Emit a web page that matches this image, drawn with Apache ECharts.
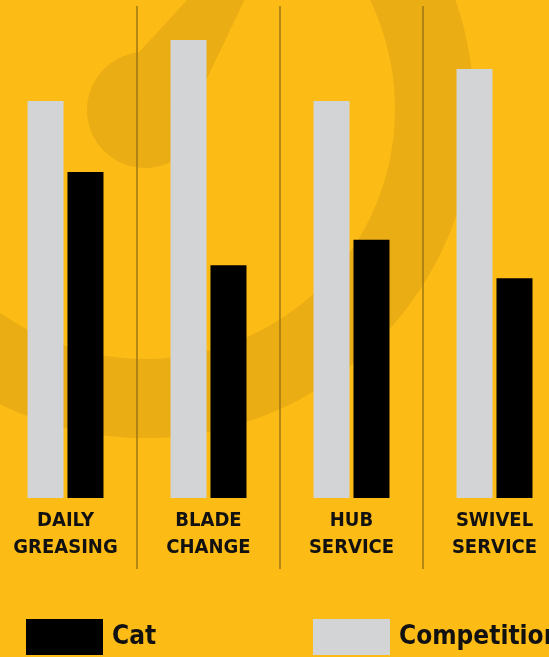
<!DOCTYPE html>
<html>
<head>
<meta charset="utf-8">
<title>Cat vs Competition</title>
<script src="https://cdn.jsdelivr.net/npm/echarts@6/dist/echarts.min.js"></script>
<style>
    html, body { margin: 0; padding: 0; overflow: hidden; width: 549px; height: 657px; }
    /* the plot runs a little past both edges of the window */
    #chart { position: absolute; left: -6px; top: 0; width: 572px; height: 657px; }
</style>
</head>
<body>
<div id="chart"></div>
<script>
const categories = ['DAILY\nGREASING', 'BLADE\nCHANGE', 'HUB\nSERVICE', 'SWIVEL\nSERVICE'];
const competitionValues = [82.7, 95.4, 82.7, 89.4];
const catValues = [67.9, 48.5, 53.8, 45.8];

const font = "'Liberation Sans Narrow', 'DejaVu Sans Condensed', 'Arial Narrow', sans-serif";
const yellow = '#fdbb16';
const shade = '#ebad14';

const myChart = echarts.init(document.getElementById('chart'));

const option = {
    backgroundColor: yellow,
    animation: false,
    // faint gauge logo behind the bars
    graphic: [
        { type: 'ring', z: -10, shape: { cx: 151, cy: 109, r: 329, r0: 250 }, style: { fill: shade } },
        { type: 'circle', z: -10, shape: { cx: 151, cy: 110, r: 58 }, style: { fill: shade } },
        { type: 'polygon', z: -10, shape: { points: [[313, -130], [204, 97], [151, 110], [124, 75]] }, style: { fill: shade } }
    ],
    grid: [
        { left: 0, right: 0, top: 18, bottom: 159 },
        // second grid only for the divider lines
        { left: 0, right: 0, top: 6, bottom: 88 }
    ],
    legend: [
        {
            data: ['Cat'], left: 32, top: 619, icon: 'rect', padding: 0,
            itemWidth: 77, itemHeight: 36,
            textStyle: { fontFamily: font, fontWeight: 'bold', fontSize: 26, color: '#111', padding: [0, 0, 0, 4] }
        },
        {
            data: ['Competition'], left: 319, top: 619, icon: 'rect', padding: 0,
            itemWidth: 77, itemHeight: 36,
            textStyle: { fontFamily: font, fontWeight: 'bold', fontSize: 26, color: '#111', padding: [0, 0, 0, 4] }
        }
    ],
    xAxis: [
        {
            type: 'category', gridIndex: 0, data: categories,
            axisLine: { show: false }, axisTick: { show: false },
            axisLabel: {
                margin: 9, interval: 0,
                fontFamily: font, fontWeight: 'bold', fontSize: 20, lineHeight: 27, color: '#111'
            }
        },
        {
            type: 'category', gridIndex: 1, data: categories,
            axisLine: { show: false }, axisTick: { show: false }, axisLabel: { show: false },
            splitLine: { show: true, interval: 0, lineStyle: { color: '#9c7614', width: 1.5 } }
        }
    ],
    yAxis: [
        { type: 'value', gridIndex: 0, min: 0, max: 100, show: false },
        { type: 'value', gridIndex: 1, show: false }
    ],
    series: [
        {
            name: 'Competition', type: 'bar', data: competitionValues,
            barWidth: 36, barGap: '11%',
            itemStyle: { color: '#d3d4d6' }
        },
        {
            name: 'Cat', type: 'bar', data: catValues,
            barWidth: 36, barGap: '11%',
            itemStyle: { color: '#000000' }
        }
    ]
};

myChart.setOption(option);
</script>
</body>
</html>
